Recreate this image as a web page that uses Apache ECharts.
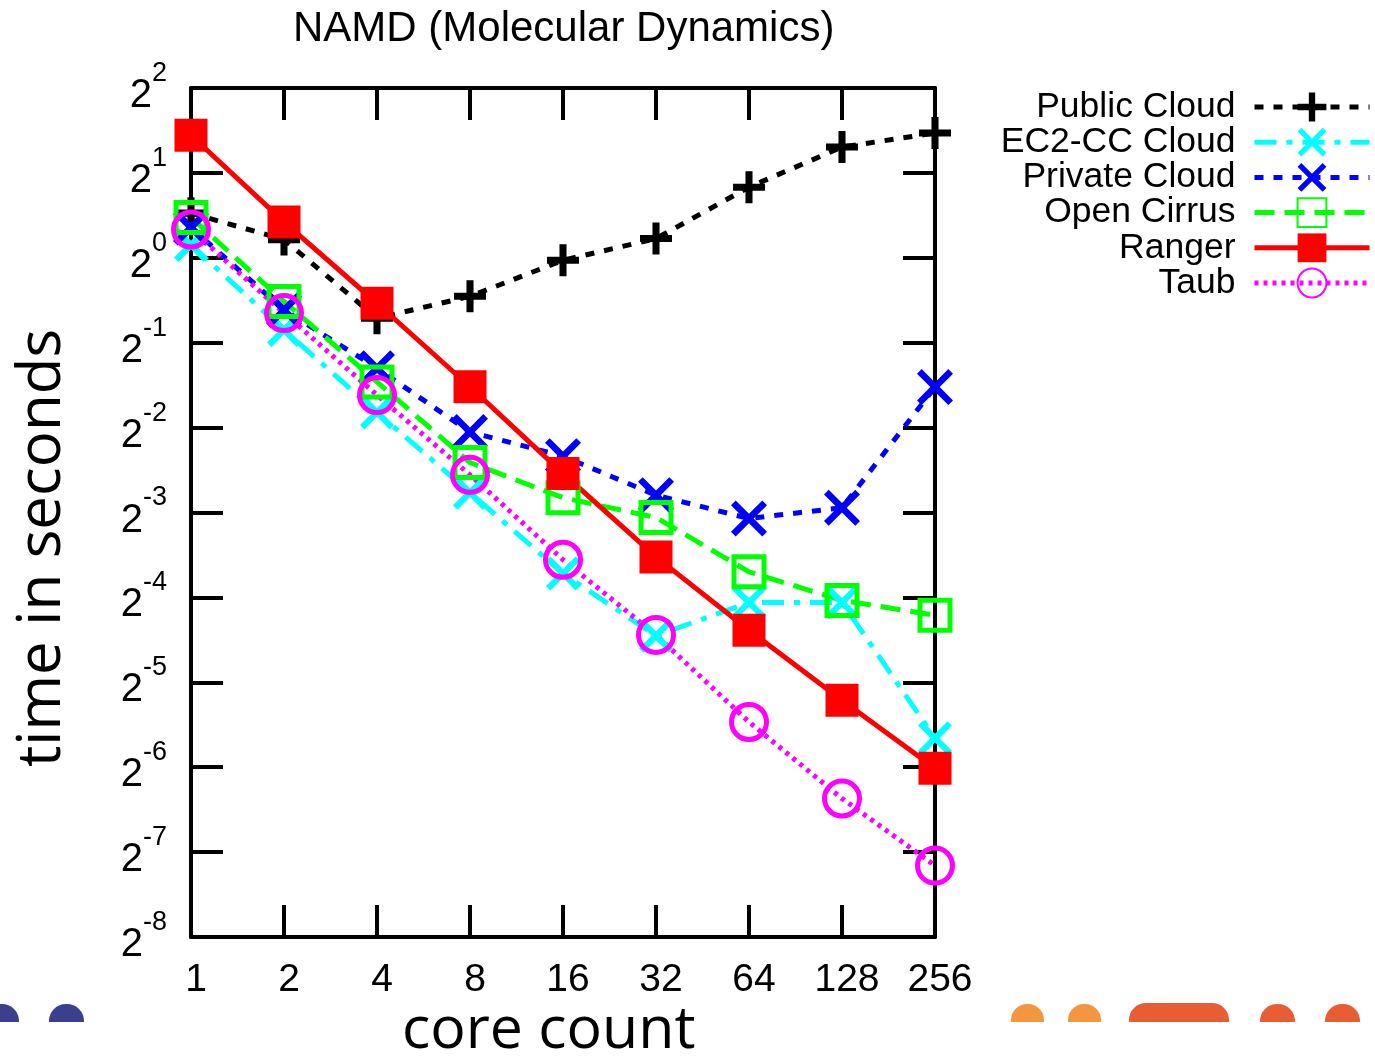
<!DOCTYPE html>
<html>
<head>
<meta charset="utf-8">
<script src="https://cdn.jsdelivr.net/npm/echarts@6/dist/echarts.min.js"></script>
<style>
html,body{margin:0;padding:0;background:#fff;}
#chart{width:1375px;height:1056px;}
</style>
</head>
<body>
<div id="chart"></div>
<script>
const categories = ['1','2','4','8','16','32','64','128','256'];
const yTickExponents = [-8,-7,-6,-5,-4,-3,-2,-1,0,1,2];
const seriesNames = ['Public Cloud','EC2-CC Cloud','Private Cloud','Open Cirrus','Ranger','Taub'];
const publicCloud  = [1.44, 1.16, 0.61, 0.73, 0.98, 1.17, 1.78, 2.47, 2.77];
const ec2cc        = [1.11, 0.555, 0.283, 0.147, 0.076, 0.0457, 0.060, 0.060, 0.0198];
const privateCloud = [1.28, 0.653, 0.406, 0.241, 0.198, 0.144, 0.119, 0.130, 0.348];
const openCirrus   = [1.39, 0.70, 0.363, 0.188, 0.141, 0.120, 0.077, 0.061, 0.054];
const ranger       = [2.72, 1.34, 0.69, 0.349, 0.172, 0.087, 0.0478, 0.0270, 0.0155];
const taub         = [1.26, 0.637, 0.326, 0.170, 0.085, 0.046, 0.0226, 0.0121, 0.0070];

const PLUS = 'path://M3.9,0H6.1V3.9H10V6.1H6.1V10H3.9V6.1H0V3.9H3.9Z';
const CROSS = 'path://M0,1.3L1.3,0L5,3.7L8.7,0L10,1.3L6.3,5L10,8.7L8.7,10L5,6.3L1.3,10L0,8.7L3.7,5Z';

const chart = echarts.init(document.getElementById('chart'));
const FONT = '"Liberation Sans", Arial, Helvetica, sans-serif';

function mk(name, data, color, dash, symbol, size, itemStyle, width) {
  return {
    name: name, type: 'line', data: data,
    xAxisIndex: 0, yAxisIndex: 0,
    clip: false,
    symbol: symbol, symbolSize: size,
    showAllSymbol: true,
    lineStyle: {color: color, width: width || 5, type: dash},
    itemStyle: itemStyle || {color: color},
    emphasis: {disabled: true},
    animation: false
  };
}

const minY = Math.pow(2, yTickExponents[0]);
const maxY = Math.pow(2, yTickExponents[yTickExponents.length - 1]);

const option = {
  backgroundColor: '#fff',
  animation: false,
  title: {
    text: 'NAMD (Molecular Dynamics)',
    left: 288, top: 3,
    textStyle: {fontFamily: FONT, fontSize: 42, fontWeight: 'normal', color: '#000'}
  },
  grid: {left: 191, right: 440, top: 88, bottom: 119, containLabel: false},
  legend: {
    orient: 'vertical', right: -2, top: 84, align: 'right',
    itemWidth: 115, itemHeight: 36, itemGap: -0.8,
    selectedMode: false,
    lineStyle: {width: 5},
    textStyle: {fontFamily: FONT, fontSize: 35.5, color: '#000', padding: [0, 14, 0, 0], lineHeight: 32},
    data: seriesNames
  },
  xAxis: [
    {type: 'category', data: categories, boundaryGap: false, position: 'bottom',
     axisLine: {show: true, onZero: false, lineStyle: {color: '#000', width: 4}},
     axisTick: {show: true, inside: true, length: 32, alignWithLabel: true, lineStyle: {color: '#000', width: 4}},
     axisLabel: {fontFamily: FONT, fontSize: 39, color: '#000', margin: 24, padding: [0, 0, 0, 10]},
     splitLine: {show: false}},
    {type: 'category', data: categories, boundaryGap: false, position: 'top',
     axisLine: {show: true, onZero: false, lineStyle: {color: '#000', width: 4}},
     axisTick: {show: true, inside: true, length: 32, lineStyle: {color: '#000', width: 4}},
     axisLabel: {show: false}, splitLine: {show: false}}
  ],
  yAxis: [
    {type: 'log', logBase: 2, min: minY, max: maxY, interval: 1, position: 'left',
     axisLine: {show: true, onZero: false, lineStyle: {color: '#000', width: 4}},
     axisTick: {show: true, inside: true, length: 32, lineStyle: {color: '#000', width: 4}},
     splitLine: {show: false},
     axisLabel: {
       margin: 24, color: '#000',
       formatter: function (v) {
         const e = Math.round(Math.log2(v));
         return '{b|2}{s|' + e + '}';
       },
       rich: {
         b: {fontFamily: FONT, fontSize: 40, color: '#000', lineHeight: 56, verticalAlign: 'bottom'},
         s: {fontFamily: FONT, fontSize: 27, color: '#000', lineHeight: 56, verticalAlign: 'top'}
       }
     }},
    {type: 'log', logBase: 2, min: minY, max: maxY, interval: 1, position: 'right',
     axisLine: {show: true, onZero: false, lineStyle: {color: '#000', width: 4}},
     axisTick: {show: true, inside: true, length: 32, lineStyle: {color: '#000', width: 4}},
     axisLabel: {show: false}, splitLine: {show: false}}
  ],
  graphic: [
    {type: 'text', left: 13, top: 329, rotation: Math.PI / 2,
     style: {text: 'time in seconds', fontFamily: '"Open Sans", sans-serif', fontSize: 60, fill: '#000'}},
    {type: 'rect', shape: {x: -16, y: 1004, width: 35, height: 18, r: [17, 17, 0, 0]}, style: {fill: '#3c3e8e'}},
    {type: 'rect', shape: {x: 49, y: 1004, width: 35, height: 18, r: [17, 17, 0, 0]}, style: {fill: '#3c3e8e'}},
    {type: 'rect', shape: {x: 1011, y: 1004, width: 33, height: 18, r: [16, 16, 0, 0]}, style: {fill: '#f3963f'}},
    {type: 'rect', shape: {x: 1068, y: 1004, width: 33, height: 18, r: [16, 16, 0, 0]}, style: {fill: '#f3963f'}},
    {type: 'rect', shape: {x: 1129, y: 1003, width: 100, height: 19, r: [17, 17, 0, 0]}, style: {fill: '#e85d33'}},
    {type: 'rect', shape: {x: 1260, y: 1004, width: 35, height: 18, r: [17, 17, 0, 0]}, style: {fill: '#e85d33'}},
    {type: 'rect', shape: {x: 1325, y: 1004, width: 35, height: 18, r: [17, 17, 0, 0]}, style: {fill: '#e85d33'}},
    {type: 'text', left: 402, top: 1002,
     style: {text: 'core count', fontFamily: '"Open Sans", sans-serif', fontSize: 59, fill: '#000'}}
  ],
  series: [
    mk('Public Cloud', publicCloud, '#000000', [9, 10], PLUS, 32),
    mk('EC2-CC Cloud', ec2cc, '#00ffff', [22, 10, 6, 10], CROSS, 34),
    mk('Private Cloud', privateCloud, '#0000ff', [9, 10], CROSS, 36),
    mk('Open Cirrus', openCirrus, '#00ff00', [20, 10], 'rect', 30,
       {color: 'rgba(0,0,0,0)', borderColor: '#00ff00', borderWidth: 5}),
    mk('Ranger', ranger, '#ff0000', 'solid', 'rect', 33),
    mk('Taub', taub, '#ff00ff', [4, 5], 'circle', 35,
       {color: 'rgba(0,0,0,0)', borderColor: '#ff00ff', borderWidth: 5})
  ]
};
chart.setOption(option);
</script>
</body>
</html>
